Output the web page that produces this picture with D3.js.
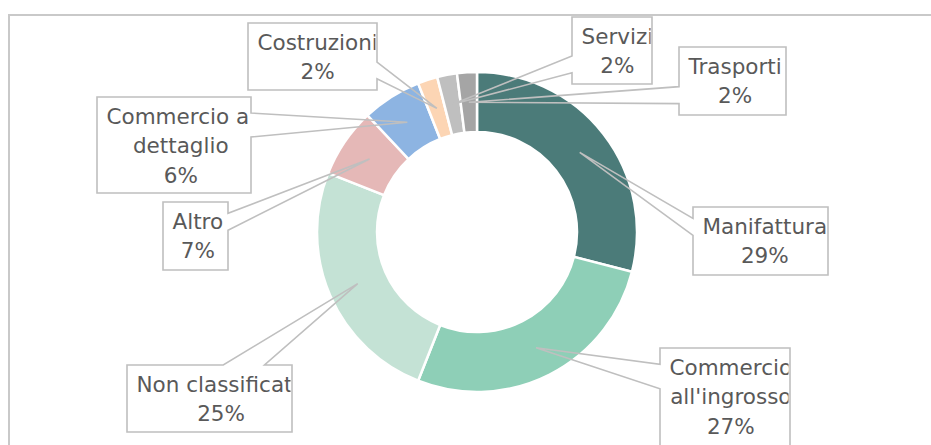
<!DOCTYPE html>
<html>
<head>
<meta charset="utf-8">
<script src="https://cdn.jsdelivr.net/npm/d3@7"></script>
<style>
  html, body { margin: 0; padding: 0; background: #fff; overflow: hidden; }
  svg { display: block; font-family: "DejaVu Sans", sans-serif; }
</style>
</head>
<body>
<div id="chart"></div>
<script>
const categories = ['Manifattura', "Commercio all'ingrosso", 'Non classificato', 'Altro',
    'Commercio al dettaglio', 'Costruzioni', 'Servizi', 'Trasporti'];
const shares = [29, 27, 25, 7, 6, 2, 2, 2];
const labelLines = [
    ['Manifattura'], ['Commercio', "all'ingrosso"], ['Non classificato'], ['Altro'],
    ['Commercio al', 'dettaglio'], ['Costruzioni'], ['Servizi'], ['Trasporti']
];
const sliceColors = ['#4b7b79', '#8ecfb7', '#c4e2d5', '#e5b8b7', '#8db4e2', '#fcd5b4', '#bfbfbf', '#a5a5a5'];

// label box layout [x, y, w, h]
const labelBoxes = [
    [693, 207, 135, 68], [660, 348, 130, 98], [127, 365, 165, 67], [163, 202, 65, 68],
    [97, 97, 154, 96], [248, 23, 129, 67], [572, 17, 80, 67], [679, 47, 107, 68]
];

const width = 931, height = 445;
const cx = 477, cy = 232;
const svg = d3.select('#chart').append('svg')
    .attr('width', width)
    .attr('height', height);

// chart area frame
svg.append('rect')
    .attr('x', 9).attr('y', 15)
    .attr('width', width + 20).attr('height', height + 20)
    .attr('fill', 'none')
    .attr('stroke', '#c9c9c9')
    .attr('stroke-width', 2);

const pie = d3.pie().sort(null).value(d => d);
const arcs = pie(shares);
const arc = d3.arc().innerRadius(100).outerRadius(160);

const g = svg.append('g').attr('transform', 'translate(' + cx + ',' + cy + ')');
g.selectAll('path')
    .data(arcs)
    .join('path')
    .attr('d', arc)
    .attr('fill', (d, i) => sliceColors[i])
    .attr('stroke', '#fff')
    .attr('stroke-width', 2.5);

// wedge-rect callout: base on the edge that faces the tip
function calloutPath(box, tip) {
    const [x, y, w, h] = box;
    const dx = tip[0] - (x + w / 2), dy = tip[1] - (y + h / 2);
    const p = d3.path();
    if (Math.abs(dx) / w > Math.abs(dy) / h) {
        const b1 = y + h * (dy < 0 ? 2 : 7) / 12, b2 = y + h * (dy < 0 ? 5 : 10) / 12;
        p.moveTo(x, y);
        p.lineTo(x + w, y);
        if (dx > 0) { p.lineTo(x + w, b1); p.lineTo(tip[0], tip[1]); p.lineTo(x + w, b2); }
        p.lineTo(x + w, y + h);
        p.lineTo(x, y + h);
        if (dx < 0) { p.lineTo(x, b2); p.lineTo(tip[0], tip[1]); p.lineTo(x, b1); }
        p.closePath();
    } else {
        const b1 = x + w * (dx < 0 ? 2 : 7) / 12, b2 = x + w * (dx < 0 ? 5 : 10) / 12;
        p.moveTo(x, y);
        if (dy < 0) { p.lineTo(b1, y); p.lineTo(tip[0], tip[1]); p.lineTo(b2, y); }
        p.lineTo(x + w, y);
        p.lineTo(x + w, y + h);
        if (dy > 0) { p.lineTo(b2, y + h); p.lineTo(tip[0], tip[1]); p.lineTo(b1, y + h); }
        p.lineTo(x, y + h);
        p.closePath();
    }
    return p.toString();
}

const defs = svg.append('defs');
const labels = svg.append('g');

arcs.forEach((d, i) => {
    const box = labelBoxes[i];
    const c = arc.centroid(d);
    const tip = [cx + c[0], cy + c[1]];

    labels.append('path')
        .attr('d', calloutPath(box, tip))
        .attr('fill', 'none')
        .attr('stroke', '#bfbfbf')
        .attr('stroke-width', 1.6)
        .attr('stroke-linejoin', 'miter');

    defs.append('clipPath').attr('id', 'clip' + i)
        .append('rect')
        .attr('x', box[0] + 1).attr('y', box[1] + 1)
        .attr('width', box[2] - 2.5).attr('height', box[3] - 2);

    const lines = labelLines[i].concat([shares[i] + '%']);
    const t = labels.append('g').attr('clip-path', 'url(#clip' + i + ')');
    const texts = t.selectAll('text')
        .data(lines)
        .join('text')
        .attr('y', (s, k) => box[1] + 26.5 + k * 29.7)
        .attr('font-size', 21.5)
        .attr('fill', '#595959')
        .attr('text-anchor', 'middle')
        .text(s => s);
    let blockW = 0;
    texts.each(function () { blockW = Math.max(blockW, this.getComputedTextLength()); });
    texts.attr('x', box[0] + 9.5 + blockW / 2);
});
</script>
</body>
</html>
